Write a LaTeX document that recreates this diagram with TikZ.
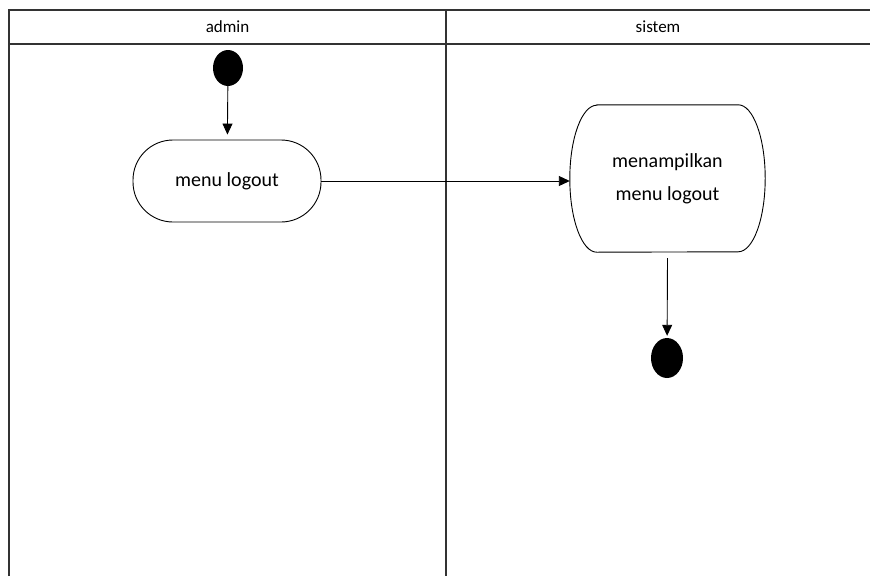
\documentclass[tikz,border=0pt]{standalone}
\usepackage{fontspec}
\setmainfont{Carlito}
\usetikzlibrary{arrows.meta,shapes.geometric}
\begin{document}
\begin{tikzpicture}[x=1pt,y=-1pt,
  lane/.style={draw=black!80,line width=1.3pt},
  act/.style={draw,line width=0.9pt,rounded corners=40pt,minimum width=188pt,minimum height=82pt,font=\fontsize{20}{24}\selectfont,align=center},
  dot/.style={ellipse,fill=black,inner sep=0pt},
  flow/.style={line width=0.9pt,-{Triangle[length=11pt,width=10pt]}},
  lanetitle/.style={font=\fontsize{17}{20}\selectfont}]
\useasboundingbox (0,0) rectangle (870,576);
% swimlanes
\draw[lane] (9,576) -- (9,10) -- (870,10);
\draw[lane] (9,44) -- (870,44);
\draw[lane] (446,10) -- (446,576);
\node[lanetitle] (tadmin) at (227.5,27) {admin};
\node[lanetitle] (tsistem) at (658,27) {sistem};
% nodes
\node[dot,minimum width=30pt,minimum height=36pt] (start) at (228,68) {};
\node[act] (menu) at (227,181) {menu logout};
\node[draw=none,font=\fontsize{20}{24}\selectfont,align=center,minimum width=195pt,minimum height=147pt] (tampil) at (667.5,178.5) {menampilkan\\[9pt]menu logout};
\draw[line width=0.9pt] ([xshift=27pt]tampil.north west) -- ([xshift=-27pt]tampil.north east)
  arc[start angle=90,end angle=-90,x radius=27pt,y radius=73.5pt]
  -- ([xshift=27pt]tampil.south west)
  arc[start angle=270,end angle=90,x radius=27pt,y radius=73.5pt] -- cycle;
\node[dot,minimum width=32pt,minimum height=40pt] (end) at (667,358) {};
% flows
\draw[flow,shorten >=5pt] (start) -- (menu);
\draw[flow] (menu.east) -- (menu.east -| tampil.west);
\draw[flow,shorten >=2pt] ([yshift=-6pt]tampil.south) -- (end);
\end{tikzpicture}
\end{document}
